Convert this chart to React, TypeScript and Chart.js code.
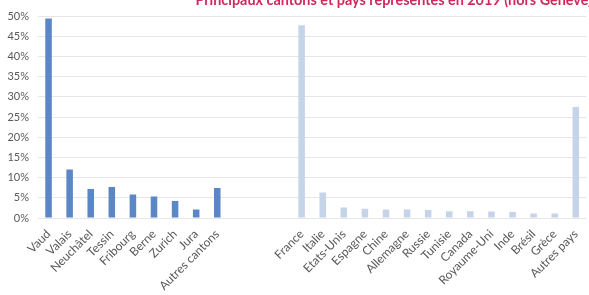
import React, { useEffect, useRef } from "react";
import { Chart, registerables } from "chart.js";

Chart.register(...registerables);

const cantonLabels = ["Vaud", "Valais", "Neuchâtel", "Tessin", "Fribourg", "Berne", "Zurich", "Jura", "Autres cantons"];
const cantonValues = [49.4, 12.0, 7.2, 7.7, 5.8, 5.3, 4.2, 2.1, 7.4];
const gapLabels = ["", "", ""];
const countryLabels = ["France", "Italie", "Etats-Unis", "Espagne", "Chine", "Allemagne", "Russie", "Tunisie", "Canada", "Royaume-Uni", "Inde", "Brésil", "Grèce", "Autres pays"];
const countryValues = [47.7, 6.3, 2.6, 2.3, 2.1, 2.1, 2.0, 1.7, 1.7, 1.6, 1.5, 1.1, 1.1, 27.5];
const yTicks = [0, 5, 10, 15, 20, 25, 30, 35, 40, 45, 50];
const titleText = "Principaux cantons et pays représentés en 2019 (hors Genève)";

const CANTON_COLOR = "#5B87C6";
const COUNTRY_COLOR = "#C6D4E9";

export default function App() {
  const ref = useRef<HTMLCanvasElement | null>(null);

  useEffect(() => {
    document.body.style.margin = "0";
    document.body.style.overflow = "hidden";
    document.documentElement.style.overflow = "hidden";
    const canvas = ref.current;
    if (!canvas) return;

    const labels = [...cantonLabels, ...gapLabels, ...countryLabels];
    const data = [...cantonValues, ...gapLabels.map(() => null), ...countryValues];
    const colors = [
      ...cantonLabels.map(() => CANTON_COLOR),
      ...gapLabels.map(() => CANTON_COLOR),
      ...countryLabels.map(() => COUNTRY_COLOR),
    ];

    const titlePlugin = {
      id: "clippedTitle",
      afterDraw(chart: any) {
        const ctx = chart.ctx;
        ctx.save();
        ctx.font = "bold 14.4px Lato, 'Open Sans', sans-serif";
        ctx.fillStyle = "#D0285C";
        ctx.textAlign = "right";
        ctx.textBaseline = "alphabetic";
        ctx.fillText(titleText, 592, 5);
        ctx.restore();
      },
    };

    const chart = new Chart(canvas, {
      type: "bar",
      data: {
        labels,
        datasets: [
          {
            data: data as any,
            backgroundColor: colors,
            categoryPercentage: 1,
            barPercentage: 0.31,
          },
        ],
      },
      options: {
        animation: false,
        responsive: false,
        maintainAspectRatio: false,
        layout: { padding: { top: 16, left: 0, right: 0, bottom: 0 } },
        plugins: {
          legend: { display: false },
          tooltip: { enabled: false },
          title: { display: false },
        },
        scales: {
          x: {
            grid: { display: false, drawTicks: false },
            border: { display: false },
            ticks: {
              color: "#595959",
              font: { family: "Lato, 'Open Sans', sans-serif", size: 12 },
              minRotation: 45,
              maxRotation: 45,
              autoSkip: false,
              padding: 9,
            },
            afterFit(scale: any) {
              scale.height = 77;
            },
          },
          y: {
            min: 0,
            max: 50,
            afterBuildTicks(scale: any) {
              scale.ticks = yTicks.map((v) => ({ value: v }));
            },
            grid: { color: "#E6E6E6", drawTicks: false, lineWidth: 1 },
            border: { display: false },
            ticks: {
              color: "#595959",
              font: { family: "Lato, 'Open Sans', sans-serif", size: 11 },
              padding: 9,
              callback: (v: any) => `${v}%`,
            },
            afterFit(scale: any) {
              scale.width = 38;
            },
          },
        },
      },
      plugins: [titlePlugin],
    });

    return () => chart.destroy();
  }, []);

  return (
    <div style={{ width: 595, height: 295, position: "relative" }}>
      <canvas ref={ref} width={595} height={295} style={{ display: "block", width: 595, height: 295 }} />
    </div>
  );
}
